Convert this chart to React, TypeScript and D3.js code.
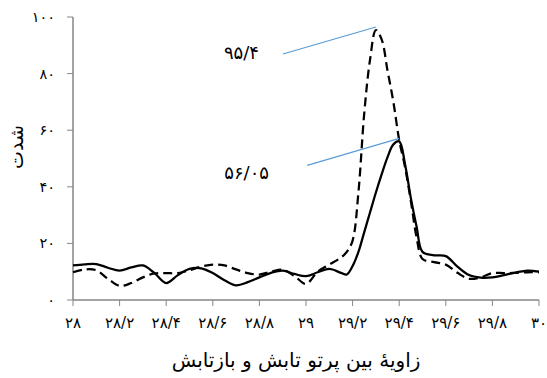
import * as d3 from "d3";

// angle values (x) shared by both scans
const angles = [
  28.0, 28.05, 28.1, 28.15, 28.2, 28.25, 28.3, 28.35, 28.4, 28.45, 28.5, 28.55,
  28.6, 28.65, 28.7, 28.75, 28.8, 28.85, 28.9, 28.95, 29.0, 29.05, 29.1, 29.15,
  29.175, 29.2, 29.225, 29.25, 29.275, 29.3, 29.325, 29.35, 29.375, 29.4, 29.425,
  29.45, 29.475, 29.5, 29.55, 29.6, 29.65, 29.7, 29.75, 29.8, 29.85, 29.9, 29.95, 30.0,
];

const solidValues = [
  12.2, 12.6, 12.7, 11.4, 10.4, 11.5, 12.2, 9.5, 6.0, 8.8, 11.0, 11.2,
  9.5, 7.0, 5.2, 6.3, 8.0, 9.6, 10.4, 9.2, 8.4, 9.8, 11.0, 9.6,
  9.0, 12.0, 17.0, 24.0, 31.0, 38.0, 44.5, 50.5, 55.0, 56.05, 48.0,
  36.0, 25.8, 17.0, 15.8, 15.5, 11.8, 8.8, 7.9, 8.0, 8.8, 9.7, 10.4, 10.0,
];

const dashedValues = [
  9.8, 10.8, 10.5, 7.5, 5.0, 6.0, 8.0, 9.4, 9.5, 9.5, 10.5, 11.8,
  12.5, 12.2, 10.8, 9.5, 9.0, 10.0, 10.7, 8.5, 5.7, 10.0, 12.5, 15.0,
  17.0, 21.0, 38.0, 66.0, 85.0, 95.4, 92.0, 81.0, 70.0, 56.5, 47.0,
  35.0, 22.0, 14.5, 13.4, 12.5, 9.6, 7.5, 8.0, 9.5, 9.5, 9.6, 9.8, 9.8,
];

const xTicks = [28, 28.2, 28.4, 28.6, 28.8, 29, 29.2, 29.4, 29.6, 29.8, 30];
const xTickLabels = ["۲۸", "۲۸/۲", "۲۸/۴", "۲۸/۶", "۲۸/۸", "۲۹", "۲۹/۲", "۲۹/۴", "۲۹/۶", "۲۹/۸", "۳۰"];
const yTicks = [0, 20, 40, 60, 80, 100];
const yTickLabels = ["۰", "۲۰", "۴۰", "۶۰", "۸۰", "۱۰۰"];

const peakLabels = [
  { x: 29.3, y: 95.4, text: "۹۵/۴", dx: -93, dy: 27, tx: 259, ty: 59 },
  { x: 29.4, y: 56.05, text: "۵۶/۰۵", dx: -92, dy: 27, tx: 269, ty: 179 },
];

const xTitle = "زاویهٔ بین پرتو تابش و بازتابش";
const yTitle = "شدت";

export default function App() {
  const width = 547;
  const height = 378;
  const margin = { top: 17, right: 8, bottom: 78, left: 73 };

  const x = d3.scaleLinear().domain([28, 30]).range([margin.left, width - margin.right]);
  const y = d3.scaleLinear().domain([0, 100]).range([height - margin.bottom, margin.top]);

  const line = d3
    .line<number>()
    .x((_, i) => x(angles[i]))
    .y((d) => y(d))
    .curve(d3.curveCatmullRom.alpha(0.5));

  const axisColor = "#868686";
  const font = "'DejaVu Sans', sans-serif";
  const y0 = y(0);

  return (
    <svg
      width={width}
      height={height}
      style={{ position: "absolute", left: 0, top: 0, background: "#fff" }}
      fontFamily={font}
    >
      {/* y axis */}
      <line x1={x(28)} x2={x(28)} y1={y(100)} y2={y0} stroke={axisColor} strokeWidth={1.5} />
      {yTicks.map((t, i) => (
        <g key={t}>
          <line x1={x(28) - 6} x2={x(28)} y1={y(t)} y2={y(t)} stroke={axisColor} strokeWidth={1} />
          <text x={55} y={y(t)} dy="0.35em" textAnchor="end" fontSize={14.5} fill="#000">
            {yTickLabels[i]}
          </text>
        </g>
      ))}

      {/* x axis */}
      <line x1={x(28)} x2={x(30)} y1={y0} y2={y0} stroke={axisColor} strokeWidth={1.5} />
      {xTicks.map((t, i) => (
        <g key={t}>
          <line x1={x(t)} x2={x(t)} y1={y0} y2={y0 + 6} stroke={axisColor} strokeWidth={1} />
          <text x={x(t)} y={y0 + 23} dy="0.35em" textAnchor="middle" fontSize={15} fill="#000">
            {xTickLabels[i]}
          </text>
        </g>
      ))}

      {/* series */}
      <path d={line(dashedValues) ?? ""} fill="none" stroke="#000" strokeWidth={2.25} strokeDasharray="9 5" />
      <path d={line(solidValues) ?? ""} fill="none" stroke="#000" strokeWidth={2.25} />

      {/* peak annotations */}
      {peakLabels.map((p) => (
        <g key={p.text}>
          <line
            x1={x(p.x) + p.dx}
            y1={y(p.y) - 3 + p.dy}
            x2={x(p.x)}
            y2={y(p.y) - 3}
            stroke="#5B9BD5"
            strokeWidth={1.2}
          />
          <text x={p.tx} y={p.ty} textAnchor="end" fontSize={18} fill="#000">
            {p.text}
          </text>
        </g>
      ))}

      {/* titles */}
      <text x={(x(28) + x(30)) / 2 - 10} y={367} textAnchor="middle" fontSize={20} fill="#000" direction="rtl">
        {xTitle}
      </text>
      <text
        transform={`translate(23, ${147}) rotate(-90)`}
        textAnchor="middle"
        fontSize={19}
        fill="#000"
        direction="rtl"
      >
        {yTitle}
      </text>
    </svg>
  );
}
